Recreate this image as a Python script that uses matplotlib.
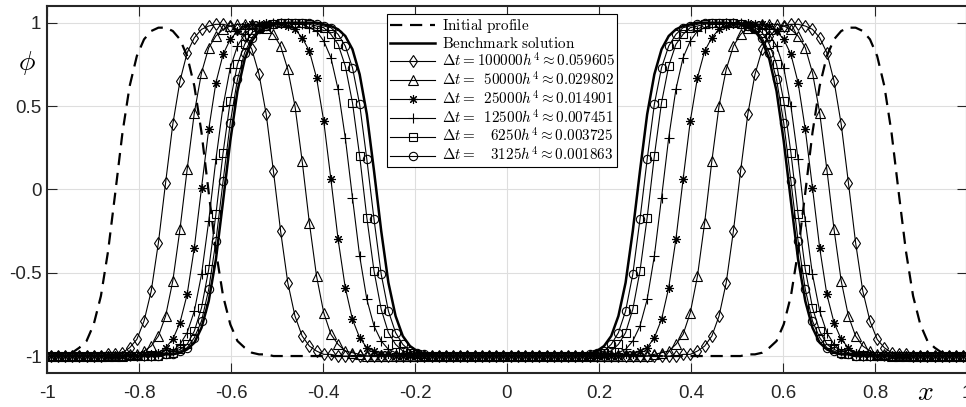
import numpy as np
import matplotlib.pyplot as plt

plt.rcParams['mathtext.fontset'] = 'cm'
plt.rcParams['font.family'] = ['Liberation Sans', 'DejaVu Sans']
plt.rcParams['axes.unicode_minus'] = False

# 128 cell centres on [-1, 1]; all profiles are symmetric about x = 0,
# so only the left half (64 values, x from -1 to 0) is listed here
x = np.linspace(-1 + 1 / 128, 1 - 1 / 128, 128)

phi_initial = [
    -1.00, -0.99, -0.99, -0.98, -0.95, -0.91, -0.81, -0.64, -0.37, -0.02, 0.34, 0.62, 0.80, 0.90, 0.95, 0.97,
    0.97, 0.95, 0.90, 0.80, 0.62, 0.34, -0.02, -0.37, -0.64, -0.81, -0.91, -0.95, -0.98, -0.99, -0.99, -1.00,
    -1.00, -1.00, -1.00, -1.00, -1.00, -1.00, -1.00, -1.00, -1.00, -1.00, -1.00, -1.00, -1.00, -1.00, -1.00, -1.00,
    -1.00, -1.00, -1.00, -1.00, -1.00, -1.00, -1.00, -1.00, -1.00, -1.00, -1.00, -1.00, -1.00, -1.00, -1.00, -1.00,
]
phi_benchmark = [
    -1.00, -1.00, -1.00, -1.00, -1.00, -1.00, -1.00, -1.00, -1.00, -1.00, -1.00, -1.00, -1.00, -1.00, -1.00, -1.00,
    -0.99, -0.99, -0.98, -0.96, -0.92, -0.83, -0.67, -0.42, -0.07, 0.29, 0.59, 0.78, 0.89, 0.95, 0.97, 0.99,
    0.99, 1.00, 1.00, 1.00, 1.00, 1.00, 0.99, 0.98, 0.96, 0.92, 0.84, 0.69, 0.45, 0.11, -0.25, -0.56,
    -0.76, -0.88, -0.94, -0.97, -0.99, -0.99, -1.00, -1.00, -1.00, -1.00, -1.00, -1.00, -1.00, -1.00, -1.00, -1.00,
]
phi_dt100000 = [
    -1.00, -1.00, -1.00, -1.00, -1.00, -1.00, -1.00, -1.00, -0.99, -0.99, -0.98, -0.95, -0.90, -0.79, -0.61, -0.32,
    0.04, 0.39, 0.65, 0.82, 0.91, 0.96, 0.98, 0.99, 0.99, 0.98, 0.96, 0.92, 0.84, 0.69, 0.45, 0.11,
    -0.25, -0.56, -0.76, -0.88, -0.94, -0.97, -0.99, -0.99, -1.00, -1.00, -1.00, -1.00, -1.00, -1.00, -1.00, -1.00,
    -1.00, -1.00, -1.00, -1.00, -1.00, -1.00, -1.00, -1.00, -1.00, -1.00, -1.00, -1.00, -1.00, -1.00, -1.00, -1.00,
]
phi_dt50000 = [
    -1.00, -1.00, -1.00, -1.00, -1.00, -1.00, -1.00, -1.00, -1.00, -1.00, -1.00, -0.99, -0.99, -0.97, -0.94, -0.88,
    -0.76, -0.55, -0.24, 0.12, 0.46, 0.70, 0.85, 0.92, 0.96, 0.98, 0.99, 0.99, 0.99, 0.98, 0.97, 0.93,
    0.86, 0.72, 0.50, 0.17, -0.20, -0.52, -0.74, -0.87, -0.93, -0.97, -0.98, -0.99, -1.00, -1.00, -1.00, -1.00,
    -1.00, -1.00, -1.00, -1.00, -1.00, -1.00, -1.00, -1.00, -1.00, -1.00, -1.00, -1.00, -1.00, -1.00, -1.00, -1.00,
]
phi_dt25000 = [
    -1.00, -1.00, -1.00, -1.00, -1.00, -1.00, -1.00, -1.00, -1.00, -1.00, -1.00, -1.00, -1.00, -0.99, -0.99, -0.98,
    -0.95, -0.90, -0.80, -0.63, -0.35, 0.01, 0.36, 0.64, 0.81, 0.90, 0.95, 0.98, 0.99, 0.99, 1.00, 0.99,
    0.99, 0.98, 0.96, 0.91, 0.83, 0.67, 0.41, 0.06, -0.30, -0.59, -0.78, -0.89, -0.95, -0.97, -0.99, -0.99,
    -1.00, -1.00, -1.00, -1.00, -1.00, -1.00, -1.00, -1.00, -1.00, -1.00, -1.00, -1.00, -1.00, -1.00, -1.00, -1.00,
]
phi_dt12500 = [
    -1.00, -1.00, -1.00, -1.00, -1.00, -1.00, -1.00, -1.00, -1.00, -1.00, -1.00, -1.00, -1.00, -1.00, -1.00, -0.99,
    -0.98, -0.97, -0.93, -0.86, -0.73, -0.51, -0.19, 0.18, 0.50, 0.73, 0.86, 0.93, 0.97, 0.98, 0.99, 1.00,
    1.00, 1.00, 0.99, 0.99, 0.97, 0.95, 0.89, 0.79, 0.60, 0.31, -0.05, -0.40, -0.66, -0.82, -0.91, -0.96,
    -0.98, -0.99, -0.99, -1.00, -1.00, -1.00, -1.00, -1.00, -1.00, -1.00, -1.00, -1.00, -1.00, -1.00, -1.00, -1.00,
]
phi_dt6250 = [
    -1.00, -1.00, -1.00, -1.00, -1.00, -1.00, -1.00, -1.00, -1.00, -1.00, -1.00, -1.00, -1.00, -1.00, -1.00, -1.00,
    -0.99, -0.98, -0.96, -0.93, -0.85, -0.71, -0.48, -0.15, 0.22, 0.53, 0.75, 0.87, 0.94, 0.97, 0.98, 0.99,
    1.00, 1.00, 1.00, 1.00, 0.99, 0.98, 0.97, 0.93, 0.87, 0.74, 0.52, 0.20, -0.17, -0.49, -0.72, -0.86,
    -0.93, -0.97, -0.98, -0.99, -1.00, -1.00, -1.00, -1.00, -1.00, -1.00, -1.00, -1.00, -1.00, -1.00, -1.00, -1.00,
]
phi_dt3125 = [
    -1.00, -1.00, -1.00, -1.00, -1.00, -1.00, -1.00, -1.00, -1.00, -1.00, -1.00, -1.00, -1.00, -1.00, -1.00, -1.00,
    -0.99, -0.99, -0.97, -0.95, -0.89, -0.79, -0.60, -0.31, 0.05, 0.40, 0.66, 0.82, 0.91, 0.96, 0.98, 0.99,
    1.00, 1.00, 1.00, 1.00, 1.00, 0.99, 0.98, 0.97, 0.93, 0.86, 0.73, 0.51, 0.18, -0.18, -0.51, -0.73,
    -0.86, -0.93, -0.97, -0.98, -0.99, -1.00, -1.00, -1.00, -1.00, -1.00, -1.00, -1.00, -1.00, -1.00, -1.00, -1.00,
]

dt_series = [phi_dt100000, phi_dt50000, phi_dt25000, phi_dt12500, phi_dt6250, phi_dt3125]
dt_labels = [
    r'$\Delta t = 100000h^4 \approx 0.059605$',
    r'$\Delta t = \enspace 50000h^4 \approx 0.029802$',
    r'$\Delta t = \enspace 25000h^4 \approx 0.014901$',
    r'$\Delta t = \enspace 12500h^4 \approx 0.007451$',
    r'$\Delta t = \enspace\enspace 6250h^4 \approx 0.003725$',
    r'$\Delta t = \enspace\enspace 3125h^4 \approx 0.001863$',
]
dt_markers = ['d', '^', (8, 2, 0), '+', 's', 'o']
dt_marker_sizes = [6.5, 6.5, 6.5, 7.0, 5.5, 6.0]

x_ticks = [-1, -0.8, -0.6, -0.4, -0.2, 0, 0.2, 0.4, 0.6, 0.8, 1]
x_tick_labels = ['-1', '-0.8', '-0.6', '-0.4', '-0.2', '0', '0.2', '0.4', '0.6', '0.8', '1']
y_ticks = [-1, -0.5, 0, 0.5, 1]
y_tick_labels = ['-1', '-0.5', '0', '0.5', '1']


def mirrored(left):
    left = np.asarray(left)
    return np.concatenate([left, left[::-1]])


fig = plt.figure(figsize=(9.66, 4.07), dpi=100)
ax = fig.add_axes([47 / 966, 34.3 / 407, 920 / 966, 366.7 / 407])

ax.plot(x, mirrored(phi_initial), color='k', lw=1.6, ls=(0, (5.5, 3.5)),
        label=r'$\mathrm{Initial\ profile}$')
ax.plot(x, mirrored(phi_benchmark), color='k', lw=1.8,
        label=r'$\mathrm{Benchmark\ solution}$')
for vals, lab, m, ms in zip(dt_series, dt_labels, dt_markers, dt_marker_sizes):
    ax.plot(x, mirrored(vals), color='k', lw=0.8, marker=m, ms=ms,
            mfc='none', mec='k', mew=0.8, label=lab)

ax.set_xlim(-1, 1)
ax.set_ylim(-1.1, 1.1)
ax.set_xticks(x_ticks, x_tick_labels)
ax.set_yticks(y_ticks, y_tick_labels)
ax.grid(True, color='#dedede', lw=0.8)
ax.set_axisbelow(True)

for sp in ax.spines.values():
    sp.set_color('#262626')
    sp.set_linewidth(1.5)
ax.tick_params(direction='in', top=True, right=True, length=7, width=0.8,
               colors='#262626', labelsize=13.5)
ax.tick_params(axis='x', pad=9)
ax.tick_params(axis='y', pad=4)

fig.text(27 / 966, 1 - 63 / 407, r'$\phi$', fontsize=20, ha='center', va='center')
fig.text(925 / 966, 1 - 393 / 407, r'$x$', fontsize=20, ha='center', va='center')

leg = ax.legend(loc='upper left', bbox_to_anchor=(0.3696, 0.978), fontsize=10.9,
                fancybox=False, edgecolor='k', framealpha=1, handlelength=3.0,
                handletextpad=0.4, labelspacing=0.05, borderpad=0.2, borderaxespad=0)
leg.get_frame().set_linewidth(0.8)

fig.savefig('out.png', dpi=100)
